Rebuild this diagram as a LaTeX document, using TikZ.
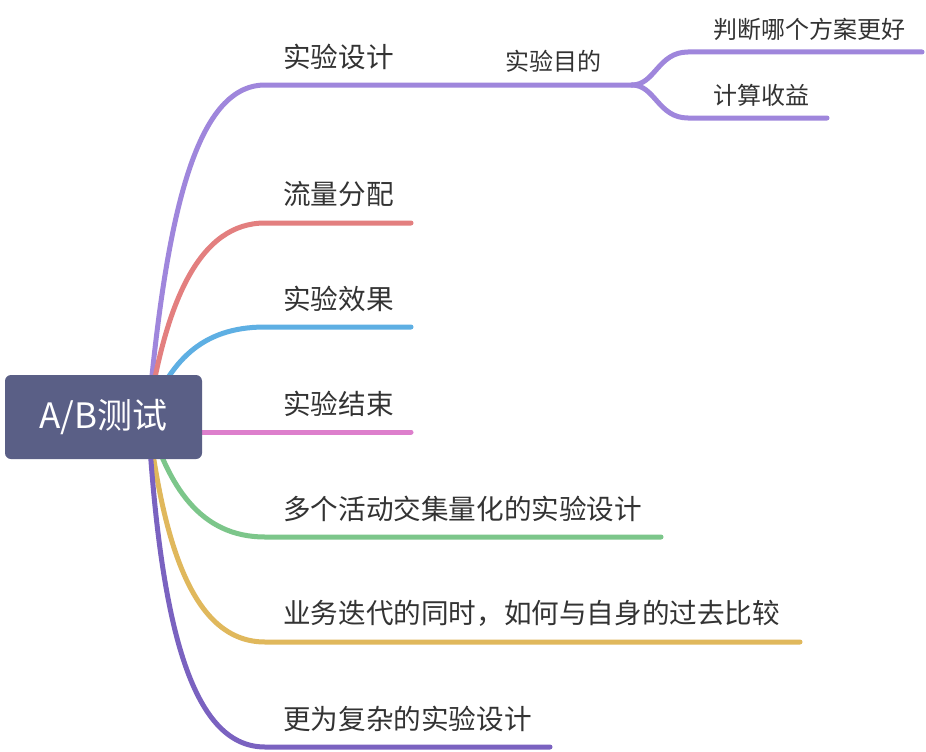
\documentclass[tikz,border=0pt]{standalone}
\usepackage{fontspec}
\setmainfont{Noto Sans CJK SC}
\definecolor{cA}{HTML}{9F86DC}
\definecolor{cB}{HTML}{E37F7F}
\definecolor{cC}{HTML}{5EAFE3}
\definecolor{cD}{HTML}{DD7FCC}
\definecolor{cE}{HTML}{7CC68A}
\definecolor{cF}{HTML}{E0B85C}
\definecolor{cG}{HTML}{7A62C0}
\definecolor{rootc}{HTML}{5A5F86}
\definecolor{txt}{HTML}{333333}
\begin{document}
\begin{tikzpicture}[x=1pt,y=-1pt,
  br/.style={line width=5pt, line cap=round},
  lab/.style={anchor=west, inner sep=0pt, font=\fontsize{27.6}{30}\selectfont, text=txt},
  sublab/.style={anchor=west, inner sep=0pt, font=\fontsize{24}{26}\selectfont, text=txt}]
\useasboundingbox[fill=white] (0,0) rectangle (926,752);

% origin and end coordinates
\coordinate (o) at (148,417);
\coordinate (k1) at (265,85);  \coordinate (e1) at (632,85);
\coordinate (k2) at (265,223); \coordinate (e2) at (411,223);
\coordinate (k3) at (265,327); \coordinate (e3) at (411,327);
\coordinate (o4) at (150,432);
\coordinate (k4) at (265,432); \coordinate (e4) at (411,432);
\coordinate (k5) at (265,537); \coordinate (e5) at (661,537);
\coordinate (k6) at (265,642); \coordinate (e6) at (800,642);
\coordinate (k7) at (265,747); \coordinate (e7) at (550,747);
\coordinate (ka) at (688,52);  \coordinate (ea) at (922,52);
\coordinate (kb) at (688,118); \coordinate (eb) at (827,118);

% branches
\draw[br, cA] (o) .. controls (166,218) and (195,85) .. (k1) -- (e1);
\draw[br, cB] (o) .. controls (166,300) and (200,223) .. (k2) -- (e2);
\draw[br, cC] (o) .. controls (170,363) and (200,327) .. (k3) -- (e3);
\draw[br, cD] (o4) -- (k4) -- (e4);
\draw[br, cE] (o) .. controls (168,486) and (200,537) .. (k5) -- (e5);
\draw[br, cF] (o) .. controls (164,550) and (195,642) .. (k6) -- (e6);
\draw[br, cG] (o) .. controls (160,620) and (190,747) .. (k7) -- (e7);

% sub-branches
\draw[br, cA] (e1) .. controls (655,85) and (658,52) .. (ka) -- (ea);
\draw[br, cA] (e1) .. controls (655,85) and (658,118) .. (kb) -- (eb);

% root
\node[fill=rootc, rounded corners=6pt, minimum width=197pt, minimum height=84pt,
      inner sep=0pt, text=white, font=\fontsize{35}{40}\selectfont] (root) at (103.5,417) {A/B测试};

% labels
\node[lab] (l1) at (283,56.5) {实验设计};
\node[lab] (l2) at (283,194.5) {流量分配};
\node[lab] (l3) at (283,298.5) {实验效果};
\node[lab] (l4) at (283,403.5) {实验结束};
\node[lab] (l5) at (283,508.5) {多个活动交集量化的实验设计};
\node[lab] (l6) at (283,613.5) {业务迭代的同时，如何与自身的过去比较};
\node[lab] (l7) at (283,718.5) {更为复杂的实验设计};
\node[sublab] (s1) at (505,61.5) {实验目的};
\node[sublab] (sa) at (713,29) {判断哪个方案更好};
\node[sublab] (sb) at (713,95) {计算收益};
\end{tikzpicture}
\end{document}
